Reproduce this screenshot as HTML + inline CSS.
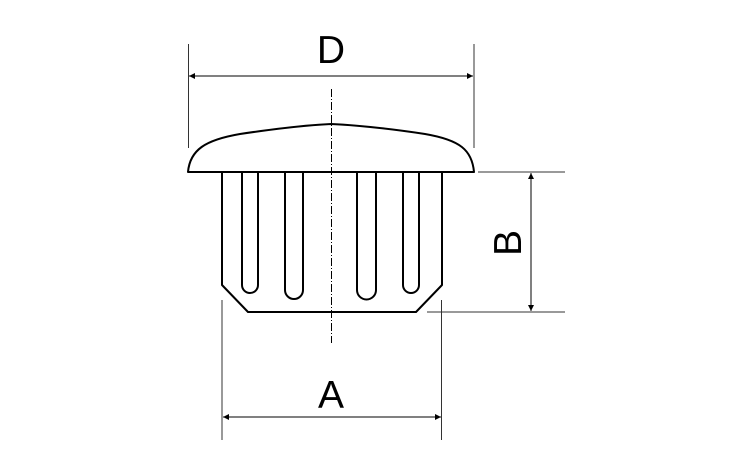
<!DOCTYPE html>
<html><head><style>html,body{margin:0;padding:0;background:#fff;}svg{display:block;}</style></head>
<body>
<svg width="750" height="450" viewBox="0 0 750 450" xmlns="http://www.w3.org/2000/svg">
<defs>
<marker id="ar" viewBox="0 0 10 10" refX="10" refY="5" markerWidth="13" markerHeight="6" markerUnits="userSpaceOnUse" orient="auto-start-reverse"><path d="M0,0 L10,5 L0,10 z" fill="#000"/></marker>
</defs>
<g stroke="#333" stroke-width="1" fill="none">
<line x1="188.5" y1="44" x2="188.5" y2="148"/>
<line x1="474" y1="44" x2="474" y2="148"/>
<line x1="189" y1="76" x2="473" y2="76" marker-start="url(#ar)" marker-end="url(#ar)" stroke="#000"/>
<line x1="222" y1="300" x2="222" y2="440"/>
<line x1="441.5" y1="300" x2="441.5" y2="440"/>
<line x1="223" y1="417" x2="441" y2="417" marker-start="url(#ar)" marker-end="url(#ar)" stroke="#000"/>
<line x1="478" y1="172" x2="565" y2="172"/>
<line x1="427" y1="312" x2="565" y2="312"/>
<line x1="531" y1="173" x2="531" y2="311" marker-start="url(#ar)" marker-end="url(#ar)" stroke="#000"/>
<line x1="331.5" y1="89" x2="331.5" y2="343" stroke="#000" stroke-dasharray="8,2,1,2"/>
</g>
<g stroke="#000" stroke-width="2" fill="none" stroke-linejoin="round">
<path d="M188,172 C190,150 205,140 240,134 C280,128 310,125 331,124 C352,125 385,128 425,134 C460,140 472,150 474,172 Z"/>
<path d="M222,172 L222,285 L248,312 L416,312 L442,285 L442,172"/>
<path d="M242,172 L242,285 A8,8 0 0 0 258,285 L258,172"/>
<path d="M285,172 L285,290 A9,9 0 0 0 303,290 L303,172"/>
<path d="M357,172 L357,290 A9.5,9.5 0 0 0 376,290 L376,172"/>
<path d="M403,172 L403,285 A8,8 0 0 0 419,285 L419,172"/>
</g>
<g font-family="Liberation Sans, sans-serif" font-size="39" fill="#000" text-anchor="middle">
<text x="331" y="63">D</text>
<text x="331" y="408">A</text>
<text x="0" y="0" transform="translate(521,243) rotate(-90)">B</text>
</g>
</svg>
</body></html>
